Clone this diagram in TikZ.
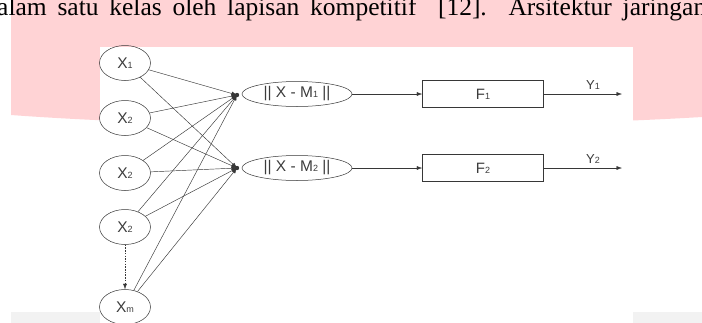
\documentclass[tikz,border=0pt]{standalone}
\usepackage{fontspec}
\setmainfont{Liberation Serif}
\newfontfamily\arial{Liberation Sans}
\usepackage{xcolor}
\usepackage{tikz}
\usetikzlibrary{shapes.geometric,arrows.meta}

\definecolor{wmpink}{RGB}{255,211,213}
\definecolor{stripgray}{RGB}{242,242,242}
\definecolor{linegray}{RGB}{55,55,55}
\definecolor{textgray}{RGB}{60,60,60}

\newcommand{\ix}[1]{{\fontsize{9}{9}\selectfont #1}}

\tikzset{
  inp/.style={ellipse, draw=linegray, line width=0.5pt, minimum width=51pt, minimum height=35pt,
    inner sep=0pt, text=textgray, font=\arial\fontsize{15.5}{16}\selectfont},
  dist/.style={ellipse, draw=linegray, line width=0.5pt, minimum width=110pt, minimum height=25pt,
    inner sep=0pt, text=textgray, font=\arial\fontsize{15.5}{16}\selectfont},
  fbox/.style={rectangle, draw=linegray, line width=0.5pt, minimum width=121pt, minimum height=27pt,
    inner sep=0pt, text=textgray, font=\arial\fontsize{15}{16}\selectfont},
  lbl/.style={inner sep=0pt, text=textgray, font=\arial\fontsize{13}{14}\selectfont},
  conn/.style={draw=linegray, line width=0.45pt, -{Latex[length=5.5pt,width=4pt]}},
  dotconn/.style={conn, dash pattern=on 1.5pt off 1.2pt},
}

\begin{document}
\begin{tikzpicture}[x=1pt,y=-1pt]
  \useasboundingbox (0,0) rectangle (702,322);

  % Page background
  \fill[wmpink] (11,-5) -- (702,-5) -- (702,117) .. controls (500,129) and (200,129) .. (11,115) -- cycle;
  \fill[stripgray] (11,312) rectangle (702,330);
  \fill[white] (100,47) rectangle (633,330);

  % Text line
  \node[anchor=base west, inner sep=0pt] (line) at (-3,15.5)
    {\fontsize{25.5}{26}\selectfont\makebox[709pt][s]{alam satu kelas oleh lapisan kompetitif\ \ [12]. Arsitektur jaringan}};

  % Inputs
  \node[inp] (x1) at (125,63) {X\ix{1}};
  \node[inp] (x2) at (125,118) {X\ix{2}};
  \node[inp] (x3) at (125,173) {X\ix{2}};
  \node[inp] (x4) at (125,227) {X\ix{2}};
  \node[inp] (x5) at (125,307) {X\ix{m}};

  % Distance units
  \node[dist] (m1) at (297,94) {|| X - M\ix{1} ||};
  \node[dist] (m2) at (297,168) {|| X - M\ix{2} ||};
  \coordinate (j1) at (237,95);
  \coordinate (j2) at (237,168);

  % Output units
  \node[fbox] (f1) at (483,94) {F\ix{1}};
  \node[fbox] (f2) at (483,168) {F\ix{2}};
  \coordinate (o1) at (622,94);
  \coordinate (o2) at (622,168);
  \node[lbl, anchor=base] (y1) at (593,89) {Y\ix{1}};
  \node[lbl, anchor=base] (y2) at (593,163) {Y\ix{2}};

  % Connections
  \foreach \i in {1,...,5} {
    \draw[conn] (x\i) -- (j1);
    \draw[conn] (x\i) -- (j2);
  }
  \fill[linegray] (j1) circle (2.2pt);
  \fill[linegray] (j2) circle (2.2pt);
  \draw[dotconn] (x4) -- (x5);

  \draw[conn] (m1) -- (f1);
  \draw[conn] (m2) -- (f2);
  \draw[conn] (f1) -- (o1);
  \draw[conn] (f2) -- (o2);
\end{tikzpicture}
\end{document}
